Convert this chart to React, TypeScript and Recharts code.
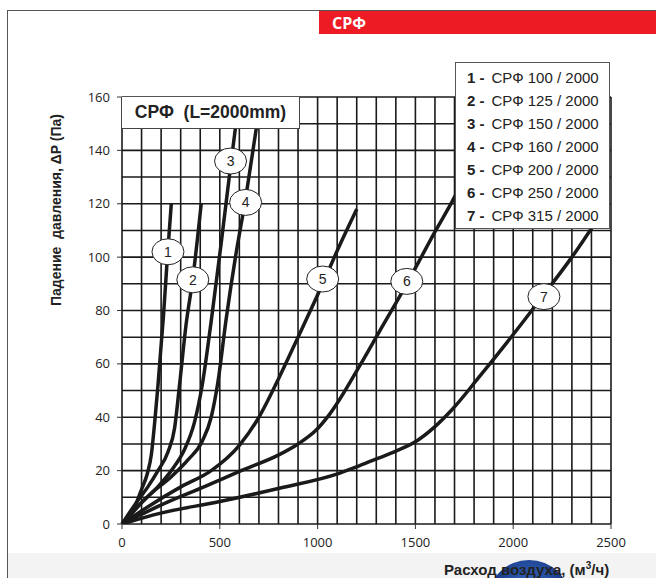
import { LineChart, Line, XAxis, YAxis, ReferenceLine, ReferenceDot } from 'recharts'

// расход воздуха (м3/ч) -> падение давления (Па), СРФ L=2000mm
const srf100 = [
  { q: 0, p: 0 }, { q: 50, p: 4 }, { q: 100, p: 13 }, { q: 130, p: 19 }, { q: 150, p: 26 },
  { q: 167, p: 38 }, { q: 184, p: 52 }, { q: 200, p: 67 }, { q: 212, p: 78 },
  { q: 232, p: 100 }, { q: 252, p: 120 },
]
const srf125 = [
  { q: 0, p: 0 }, { q: 73, p: 8 }, { q: 133, p: 14 }, { q: 184, p: 20 }, { q: 235, p: 27 },
  { q: 269, p: 36 }, { q: 294, p: 52 }, { q: 328, p: 75 }, { q: 362, p: 92 }, { q: 405, p: 120 },
]
const srf150 = [
  { q: 0, p: 0 }, { q: 99, p: 8 }, { q: 184, p: 14 }, { q: 252, p: 20 }, { q: 320, p: 28 },
  { q: 370, p: 38 }, { q: 410, p: 52 }, { q: 456, p: 76 }, { q: 505, p: 104 },
  { q: 555, p: 134 }, { q: 600, p: 160 },
]
const srf160 = [
  { q: 0, p: 0 }, { q: 150, p: 11.5 }, { q: 252, p: 17.7 }, { q: 337, p: 24 }, { q: 410, p: 31 },
  { q: 456, p: 40 }, { q: 490, p: 53 }, { q: 532, p: 76.5 }, { q: 580, p: 100 },
  { q: 632, p: 122 }, { q: 686, p: 148 }, { q: 710, p: 160 },
]
const srf200 = [
  { q: 0, p: 0 }, { q: 133, p: 6.5 }, { q: 303, p: 14 }, { q: 456, p: 20 }, { q: 600, p: 29.5 },
  { q: 700, p: 40 }, { q: 804, p: 55 }, { q: 900, p: 70 }, { q: 1026, p: 90 },
  { q: 1110, p: 104 }, { q: 1200, p: 118 },
]
const srf250 = [
  { q: 0, p: 0 }, { q: 218, p: 7.7 }, { q: 422, p: 14 }, { q: 609, p: 20 }, { q: 804, p: 26 },
  { q: 900, p: 30 }, { q: 990, p: 35 }, { q: 1060, p: 41 }, { q: 1221, p: 60 },
  { q: 1315, p: 72 }, { q: 1456, p: 90 }, { q: 1604, p: 110 }, { q: 1689, p: 121 },
  { q: 1760, p: 131 },
]
const srf315 = [
  { q: 0, p: 0 }, { q: 193, p: 4 }, { q: 500, p: 8.4 }, { q: 804, p: 13.4 }, { q: 1110, p: 19 },
  { q: 1212, p: 21.8 }, { q: 1315, p: 24.8 }, { q: 1400, p: 27.3 }, { q: 1493, p: 30.5 },
  { q: 1600, p: 36.5 }, { q: 1689, p: 43 }, { q: 1825, p: 55 }, { q: 2000, p: 71 },
  { q: 2157, p: 86 }, { q: 2300, p: 100 }, { q: 2403, p: 111 }, { q: 2460, p: 117 },
]

const series = [srf100, srf125, srf150, srf160, srf200, srf250, srf315]
const legendNames = [
  'СРФ 100 / 2000', 'СРФ 125 / 2000', 'СРФ 150 / 2000', 'СРФ 160 / 2000',
  'СРФ 200 / 2000', 'СРФ 250 / 2000', 'СРФ 315 / 2000',
]
// positions of the numbered callouts on each curve
const markerQ = [235, 362, 555, 632, 1026, 1456, 2157]
const markerP = [102, 91.5, 136, 120.5, 91.8, 90.9, 85.2]

const xTicks = [0, 500, 1000, 1500, 2000, 2500]
const yTicks = [0, 20, 40, 60, 80, 100, 120, 140, 160]
const gridX = Array.from({ length: 26 }, (_, i) => i * 100)
const gridY = Array.from({ length: 17 }, (_, i) => i * 10)

const tickFont = { fill: '#222', fontSize: 13, fontFamily: 'Open Sans' }

const Callout = (n: number) => (props: any) => (
  <g>
    <ellipse cx={props.cx} cy={props.cy} rx={16} ry={13} fill='#fff' stroke='#222' strokeWidth={1} />
    <text x={props.cx} y={props.cy} dy={5} textAnchor='middle' fontSize={14} fontFamily='Liberation Sans' fill='#222'>
      {n}
    </text>
  </g>
)

const App = () => {
  return (
    <div style={{ position: 'absolute', left: 0, top: 0, width: 656, height: 578, background: '#fff', overflow: 'hidden', fontFamily: 'Liberation Sans' }}>
      {/* page frame */}
      <div style={{ position: 'absolute', left: 7, top: 10, width: 660, height: 580, borderLeft: '1.5px solid #555', borderTop: '1.5px solid #555' }} />
      <div style={{ position: 'absolute', left: 319, top: 11, width: 340, height: 23, background: '#ed1c24' }}>
        <span style={{ position: 'absolute', left: 13, top: 1, color: '#fff', fontWeight: 700, fontSize: 16, fontFamily: 'Open Sans' }}>СРФ</span>
      </div>
      <div style={{ position: 'absolute', left: 8, top: 553, width: 650, height: 30, background: '#f3f3f3' }} />
      <div style={{ position: 'absolute', left: 488, top: 560, width: 82, height: 80, borderRadius: '50%', background: 'radial-gradient(ellipse at 50% 40%, #3b6fc4 0%, #1b3d8c 60%, #0f2a6a 100%)' }} />

      <div style={{ position: 'absolute', left: 0, top: 0 }}>
        <LineChart width={656} height={578} margin={{ top: 97, right: 45, bottom: 24, left: 82 }}>
          <XAxis
            type='number'
            dataKey='q'
            domain={[0, 2500]}
            ticks={xTicks}
            tick={tickFont}
            tickSize={5}
            tickMargin={9}
            axisLine={false}
            tickLine={{ stroke: '#333' }}
            height={30}
          />
          <YAxis
            type='number'
            dataKey='p'
            domain={[0, 160]}
            ticks={yTicks}
            tick={tickFont}
            tickSize={5}
            tickMargin={7}
            axisLine={false}
            tickLine={{ stroke: '#333' }}
            width={40}
            allowDataOverflow
          />
          {gridX.map((v) => (
            <ReferenceLine key={'gx' + v} x={v} stroke='#1a1a1a' strokeWidth={1.6} />
          ))}
          {gridY.map((v) => (
            <ReferenceLine key={'gy' + v} y={v} stroke='#1a1a1a' strokeWidth={1.6} />
          ))}
          {series.map((s, i) => (
            <Line
              key={'s' + i}
              data={s}
              dataKey='p'
              type='monotone'
              stroke='#1a1a1a'
              strokeWidth={3.5}
              dot={false}
              isAnimationActive={false}
            />
          ))}
          {markerQ.map((q, i) => (
            <ReferenceDot key={'m' + i} x={q} y={markerP[i]} r={14} shape={Callout(i + 1)} />
          ))}
        </LineChart>
      </div>

      {/* title box inside the plot */}
      <div style={{ position: 'absolute', left: 122, top: 97, width: 177, height: 31, background: '#fff', border: '1px solid #444', borderLeft: 'none', borderTop: 'none', fontWeight: 700, fontSize: 17.5, lineHeight: '31px', textAlign: 'center', color: '#222', whiteSpace: 'pre' }}>
        {'СРФ  (L=2000mm)'}
      </div>

      {/* legend */}
      <div style={{ position: 'absolute', left: 455, top: 62, width: 155, height: 167, background: '#fff', border: '1px solid #555', paddingTop: 3, boxSizing: 'border-box' }}>
        {legendNames.map((name, i) => (
          <div key={name} style={{ height: 23, lineHeight: '23px', fontSize: 15, color: '#222', paddingLeft: 11, whiteSpace: 'nowrap' }}>
            <span style={{ fontWeight: 700 }}>{i + 1} -</span>
            <span style={{ marginLeft: 7 }}>{name}</span>
          </div>
        ))}
      </div>

      {/* axis titles */}
      <div style={{ position: 'absolute', left: 56, top: 210, transform: 'translate(-50%, -50%) rotate(-90deg)', fontWeight: 700, fontSize: 14, color: '#222', whiteSpace: 'pre' }}>
        {'Падение  давления, ΔP (Па)'}
      </div>
      <div style={{ position: 'absolute', left: 444, top: 560, fontWeight: 700, fontSize: 15, color: '#222', whiteSpace: 'nowrap' }}>
        Расход воздуха, (м<sup style={{ fontSize: 10 }}>3</sup>/ч)
      </div>
    </div>
  )
}

export default App
